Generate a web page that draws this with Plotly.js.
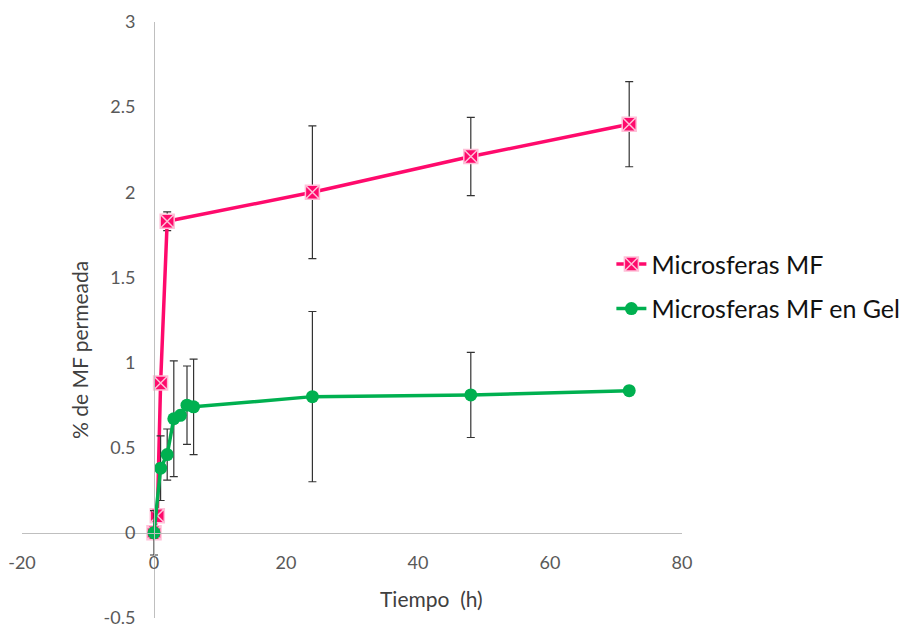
<!DOCTYPE html>
<html>
<head>
<meta charset="utf-8">
<script src="https://cdn.plot.ly/plotly-3.0.1.min.js"></script>
<style>html,body{margin:0;padding:0;background:#fff;}#chart{width:906px;height:625px;}</style>
</head>
<body>
<div id="chart"></div>
<script>
// Data
const tMF = [0, 0.5, 1, 2, 24, 48, 72];
const mf = [0, 0.10, 0.88, 1.83, 2.00, 2.21, 2.40];
const mfErr = [0.01, 0.02, 0.03, 0.055, 0.39, 0.23, 0.25];

const tGel = [0, 1, 2, 3, 4, 5, 6, 24, 48, 72];
const gel = [0, 0.38, 0.46, 0.67, 0.69, 0.75, 0.74, 0.80, 0.81, 0.835];
const gelErr = [0.13, 0.19, 0.15, 0.34, 0.02, 0.23, 0.28, 0.50, 0.25, 0.01];

const seriesNames = ["Microsferas MF", "Microsferas MF en Gel"];
const xTickVals = [-20, 0, 20, 40, 60, 80];
const yTickVals = [-0.5, 0, 0.5, 1, 1.5, 2, 2.5, 3];
const xTitle = "Tiempo  (h)";
const yTitle = "% de MF permeada";

const FONT = "Lato, 'Open Sans', sans-serif";
const pink = "#FF0A6C";
const green = "#00B050";
const errColor = "#333333";

const traces = [
  {
    x: tMF, y: mf, name: seriesNames[0], type: "scatter", mode: "lines+markers",
    legendgroup: "a",
    line: {color: pink, width: 3.5},
    marker: {symbol: "square-x", size: 14, color: pink, line: {color: "#FFC0D8", width: 1.5}},
    error_y: {type: "data", array: mfErr, visible: true, color: errColor, thickness: 1.2, width: 4}
  },
  {
    x: tGel, y: gel, name: seriesNames[1], type: "scatter", mode: "lines+markers",
    legendgroup: "b",
    line: {color: green, width: 3.5},
    marker: {symbol: "circle", size: 13, color: green},
    error_y: {type: "data", array: gelErr, visible: true, color: errColor, thickness: 1.2, width: 4}
  }
];

const xr = [-20, 80], yr = [-0.5, 3];

const layout = {
  width: 906, height: 625,
  margin: {l: 22, r: 224, t: 22, b: 7, autoexpand: false},
  paper_bgcolor: "#ffffff", plot_bgcolor: "#ffffff",
  font: {family: FONT, color: "#595959"},
  showlegend: true,
  legend: {
    x: 0.893, y: 0.632, xref: "paper", yref: "paper", xanchor: "left", yanchor: "top",
    font: {family: FONT, size: 25, color: "#111111"},
    bgcolor: "rgba(0,0,0,0)", traceorder: "grouped", tracegroupgap: 9, itemwidth: 30
  },
  xaxis: {
    range: xr, tickvals: xTickVals, ticktext: xTickVals.map(String),
    showgrid: false, zeroline: false, showline: true, linecolor: "#BFBFBF", linewidth: 1,
    anchor: "free", position: (0 - yr[0]) / (yr[1] - yr[0]),
    ticks: "", ticklabelstandoff: 14, ticklabeloverflow: "allow",
    tickfont: {family: FONT, size: 18, color: "#595959"}
  },
  yaxis: {
    range: yr, tickvals: yTickVals, ticktext: yTickVals.map(String),
    showgrid: false, zeroline: false, showline: true, linecolor: "#BFBFBF", linewidth: 1,
    anchor: "free", position: (0 - xr[0]) / (xr[1] - xr[0]),
    ticks: "", ticklabelstandoff: 15, ticklabeloverflow: "allow",
    tickfont: {family: FONT, size: 18, color: "#595959"}
  },
  annotations: [
    {text: xTitle, xref: "x", yref: "paper", x: 42, y: (618 - 598) / 596, showarrow: false,
     xanchor: "center", yanchor: "middle", font: {family: FONT, size: 21, color: "#404040"}},
    {text: yTitle, xref: "paper", yref: "paper", x: (79 - 22) / 660, y: (618 - 350) / 596, textangle: -90,
     showarrow: false, xanchor: "center", yanchor: "middle", font: {family: FONT, size: 21, color: "#404040"}}
  ]
};

Plotly.newPlot("chart", traces, layout, {displayModeBar: false, staticPlot: true});
</script>
</body>
</html>
